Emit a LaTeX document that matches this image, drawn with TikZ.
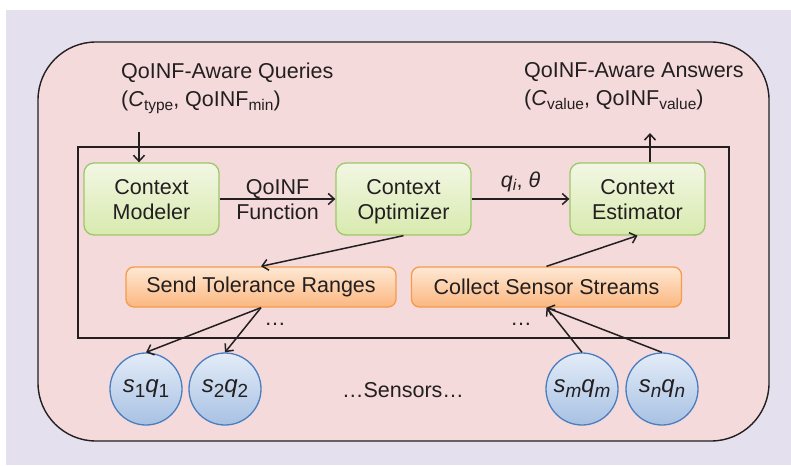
\documentclass[tikz,border=0pt]{standalone}
\usepackage{fontspec}
\setmainfont{Liberation Sans}
\usetikzlibrary{arrows.meta,shadings}
\definecolor{bgl}{HTML}{E4E0EE}
\definecolor{pinkf}{HTML}{F4DADB}
\definecolor{txt}{HTML}{231F20}
\definecolor{gtop}{HTML}{F2F7E4}
\definecolor{gbot}{HTML}{D8EAAE}
\definecolor{gdraw}{HTML}{9CC76A}
\definecolor{otop}{HTML}{FEE8D4}
\definecolor{obot}{HTML}{FBB780}
\definecolor{odraw}{HTML}{F49B4C}
\definecolor{ctop}{HTML}{E3ECF8}
\definecolor{cbot}{HTML}{A8C1E3}
\definecolor{cdraw}{HTML}{4A7EBF}
\newcommand\lowsub[1]{\raisebox{-0.33ex}{\fontsize{15.5}{15.5}\selectfont #1}}
\newcommand\csub[1]{\raisebox{-0.35ex}{\fontsize{19}{19}\selectfont #1}}
\begin{document}
\begin{tikzpicture}[x=1pt,y=-1pt,
  every node/.style={font=\fontsize{21.5}{25}\selectfont, text=txt},
  greenbox/.style={draw=gdraw, line width=1.3pt, rounded corners=10pt, top color=gtop, bottom color=gbot,
    minimum width=135pt, minimum height=72pt, align=center, inner sep=0pt, text height=40.6pt, text depth=0pt},
  orangebox/.style={draw=odraw, line width=1.3pt, rounded corners=8pt, top color=otop, bottom color=obot,
    minimum width=270pt, minimum height=40pt, inner sep=0pt},
  sensor/.style={circle, draw=cdraw, line width=1.3pt, top color=ctop, bottom color=cbot,
    minimum size=72pt, inner sep=0pt, font=\fontsize{24}{25}\selectfont},
  conn/.style={draw=txt, line width=1.5pt, -{Straight Barb[length=6pt,width=11pt,line width=1.5pt]}},
  lbl/.style={align=left, inner sep=0pt, font=\fontsize{21.5}{28}\selectfont}
]
\useasboundingbox (0,0) rectangle (791,465);
\fill[white] (0,0) rectangle (791,465);
\fill[bgl] (6,10) rectangle (791,465);
\draw[txt, line width=1.4pt, fill=pinkf, rounded corners=58pt] (38,42) rectangle (769,441);
\draw[txt, line width=1.4pt] (78,147) rectangle (729,338);

\node[lbl, anchor=north west] (query) at (121,62.5) {QoINF-Aware Queries\\(\textit{C}\lowsub{type}, QoINF\lowsub{min})};
\node[lbl, anchor=north west] (answer) at (524,62.5) {QoINF-Aware Answers\\(\textit{C}\lowsub{value}, QoINF\lowsub{value})};

\node[greenbox] (modeler) at (151.5,199) {Context\\Modeler};
\node[greenbox] (optimizer) at (403.5,199) {Context\\Optimizer};
\node[greenbox] (estimator) at (637.5,199) {Context\\Estimator};

\node[orangebox] (send) at (261,287) {Send Tolerance Ranges};
\node[orangebox] (collect) at (546.5,287) {Collect Sensor Streams};

\node[anchor=base] (dots1) at (275,325) {…};
\node[anchor=base] (dots2) at (521,325) {…};

\node[sensor] (s1) at (146,389) {\textit{s}\csub{1}\textit{q}\csub{1}};
\node[sensor] (s2) at (225,389) {\textit{s}\csub{2}\textit{q}\csub{2}};
\node[sensor] (sm) at (582,389) {\textit{s}\csub{\textit{m}}\textit{q}\csub{\textit{m}}};
\node[sensor] (sn) at (662,389) {\textit{s}\csub{\textit{n}}\textit{q}\csub{\textit{n}}};
\node[anchor=base] (sensors) at (403,397) {…Sensors…};

\coordinate (qstart) at (139,132);
\coordinate (aend) at (650,133);

\draw[conn] (qstart) -- (qstart |- modeler.north);
\draw[conn] (aend |- estimator.north) -- (aend);
\draw[conn] (modeler) -- node[align=center, inner sep=0pt, text height=40.6pt, text depth=0pt] (flbl) {QoINF\\Function} (optimizer);
\draw[conn] (optimizer) -- node[anchor=base, inner sep=0pt, yshift=12pt] (qlbl) {\textit{q}\lowsub{\textit{i}}, \textit{θ}} (estimator);
\draw[conn] (optimizer.south) -- (send.north);
\draw[conn] (collect.north) -- (estimator.south);
\draw[conn] (send.south) -- (s1.north);
\draw[conn] (send.south) -- (s2.north);
\draw[conn] (sm.north) -- (collect.south);
\draw[conn] (sn.north) -- (collect.south);
\end{tikzpicture}
\end{document}
